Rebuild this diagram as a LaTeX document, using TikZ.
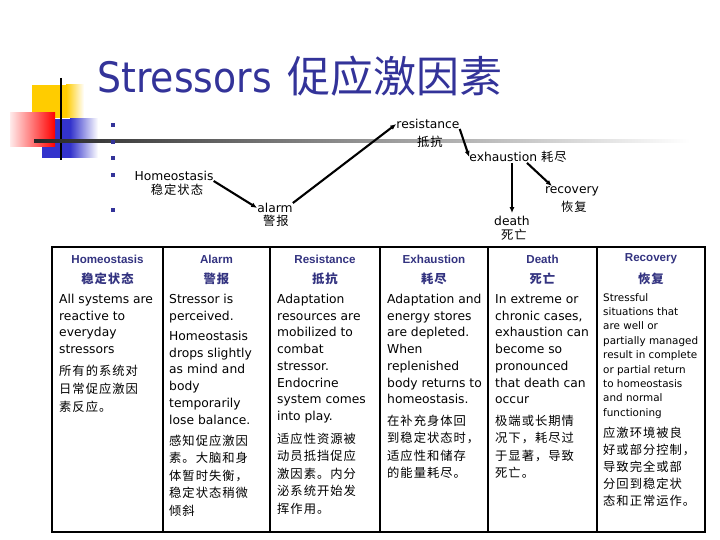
\documentclass[tikz,border=0pt]{standalone}
\usepackage{fontspec}
\setmainfont{DejaVu Sans}
\newfontfamily\headfont{Liberation Sans}
\newfontfamily\cjk[LetterSpace=8]{Noto Sans CJK SC}
\newfontfamily\cjktitle{Noto Sans CJK SC}
\usepackage{xcolor}
\usepackage{tikz}
\usetikzlibrary{arrows.meta,positioning,calc}
\definecolor{titleblue}{RGB}{51,51,153}
\definecolor{headblue}{RGB}{51,51,128}
\definecolor{decoyellow}{RGB}{255,204,0}
\definecolor{decoblue}{RGB}{51,51,204}
\definecolor{decored}{RGB}{255,0,0}
\tikzset{
  lbl/.style={inner sep=0pt, font=\fontsize{12.3}{14}\selectfont},
  lblcn/.style={inner sep=0pt, font=\cjk\fontsize{12.3}{14}\selectfont},
  stagearrow/.style={-{Latex[length=6pt,width=5pt]}, line width=2.1pt},
  head/.style={inner sep=0pt, font=\headfont\bfseries\fontsize{11.6}{13}\selectfont, text=headblue},
  headcn/.style={inner sep=0pt, font=\cjk\bfseries\fontsize{12.3}{14}\selectfont, text=headblue},
  % base anchor of a multi-line node = baseline of its last line
  bodyen/.style={anchor=base west, inner sep=0pt, align=left, font=\fontsize{12.3}{16.7}\selectfont},
  bodysm/.style={anchor=base west, inner sep=0pt, align=left, font=\fontsize{10.4}{14.4}\selectfont},
  bodycn/.style={anchor=base west, inner sep=0pt, align=left, font=\cjk\fontsize{12.3}{17.6}\selectfont},
  tabrule/.style={line width=2.4pt},
}

\begin{document}
\begin{tikzpicture}[x=1pt, y=-1pt]
  \useasboundingbox (0,0) rectangle (720,540);

  % Corner decoration
  \fill[decoyellow] (32,85) rectangle (66,118);
  \shade[left color=decoyellow, right color=white] (66,85) rectangle (84,118);
  \fill[decoblue] (42,119) rectangle (70,158);
  \shade[left color=decoblue, right color=white] (70,119) rectangle (98,158);
  \shade[left color=decored!8, right color=decored] (10,113) rectangle (55,147);
  \draw[line width=2pt] (61,78) -- (61,160);
  \shade[left color=black!85, right color=white] (34,139.8) rectangle (690,142.3);

  % Title
  \node[anchor=base west, inner sep=0pt, text=titleblue] (title) at (97,93)
    {\fontsize{42}{42}\selectfont\scalebox{0.9}[1]{Stressors}\hspace{16pt}{\cjktitle\fontsize{43}{43}\selectfont 促应激因素}};

  % Bullets
  \foreach \y in {125,142,158,175,210}
    \fill[titleblue] (110.7,\y-2.3) rectangle ++(4.6,4.6);

  % Stage labels
  \node[lbl] (homeo) at (174,176) {Homeostasis};
  \node[lblcn] (homeocn) at (177,190) {稳定状态};
  \node[lbl] (alarm) at (275,208) {alarm};
  \node[lblcn] (alarmcn) at (276,221) {警报};
  \node[lbl] (resist) at (428,124) {resistance};
  \node[lblcn] (resistcn) at (430,142) {抵抗};
  \node[lbl] (exh) at (518,157) {exhaustion {\cjk 耗尽}};
  \node[lbl] (death) at (512,221) {death};
  \node[lblcn] (deathcn) at (514,235) {死亡};
  \node[lbl] (rec) at (572,191) {recovery};
  \node[lblcn] (reccn) at (574,207) {恢复};

  % Stage arrows
  \draw[stagearrow] (homeo.south east) -- (alarm.west);
  \draw[stagearrow] (alarm.north east) -- (resist.west);
  \draw[stagearrow] (resist.south east) -- (exh.west);
  \draw[stagearrow, shorten >=3pt] (exh.south -| death.north) -- (death.north);
  \draw[stagearrow] ([xshift=9pt]exh.south) -- ([xshift=7pt]rec.north west);

  % Table frame
  \draw[tabrule] (52,247) rectangle (705,532);
  \foreach \x in {163,270,380,488,597}
    \draw[tabrule] (\x,247) -- (\x,532);

  % Column headers
  \node[head] (h1) at (107.5,259) {Homeostasis};
  \node[headcn] (c1) at (107.5,279) {稳定状态};
  \node[head] (h2) at (216.5,259) {Alarm};
  \node[headcn] (c2) at (216.5,279) {警报};
  \node[head] (h3) at (325,259) {Resistance};
  \node[headcn] (c3) at (325,279) {抵抗};
  \node[head] (h4) at (434,259) {Exhaustion};
  \node[headcn] (c4) at (434,279) {耗尽};
  \node[head] (h5) at (542.5,259) {Death};
  \node[headcn] (c5) at (542.5,279) {死亡};
  \node[head] (h6) at (651,259) {Recovery};
  \node[headcn] (c6) at (651,279) {恢复};

  % Homeostasis column
  \node[bodyen] (b1en) at (59,353.6) {All systems are\\reactive to\\everyday\\stressors};
  \node[bodycn] (b1cn) at (59,411) {所有的系统对\\日常促应激因\\素反应。};

  % Alarm column
  \node[bodyen] (b2en) at (169,320.2) {Stressor is\\perceived.};
  \node[bodyen] (b2enb) at (169,424) {Homeostasis\\drops slightly\\as mind and\\body\\temporarily\\lose balance.};
  \node[bodycn] (b2cn) at (169,515.4) {感知促应激因\\素。大脑和身\\体暂时失衡，\\稳定状态稍微\\倾斜};

  % Resistance column
  \node[bodyen] (b3en) at (277,420.4) {Adaptation\\resources are\\mobilized to\\combat\\stressor.\\Endocrine\\system comes\\into play.};
  \node[bodycn] (b3cn) at (277,513.4) {适应性资源被\\动员抵挡促应\\激因素。内分\\泌系统开始发\\挥作用。};

  % Exhaustion column
  \node[bodyen] (b4en) at (387,403.7) {Adaptation and\\energy stores\\are depleted.\\When\\replenished\\body returns to\\homeostasis.};
  \node[bodycn] (b4cn) at (387,477.8) {在补充身体回\\到稳定状态时，\\适应性和储存\\的能量耗尽。};

  % Death column
  \node[bodyen] (b5en) at (495,403.7) {In extreme or\\chronic cases,\\exhaustion can\\become so\\pronounced\\that death can\\occur};
  \node[bodycn] (b5cn) at (495,477.8) {极端或长期情\\况下，耗尽过\\于显著，导致\\死亡。};

  % Recovery column
  \node[bodysm] (b6en) at (603,416.2) {Stressful\\situations that\\are well or\\partially managed\\result in complete\\or partial return\\to homeostasis\\and normal\\functioning};
  \node[bodycn, font=\cjk\fontsize{12.3}{17}\selectfont] (b6cn) at (603,505) {应激环境被良\\好或部分控制，\\导致完全或部\\分回到稳定状\\态和正常运作。};
\end{tikzpicture}
\end{document}
